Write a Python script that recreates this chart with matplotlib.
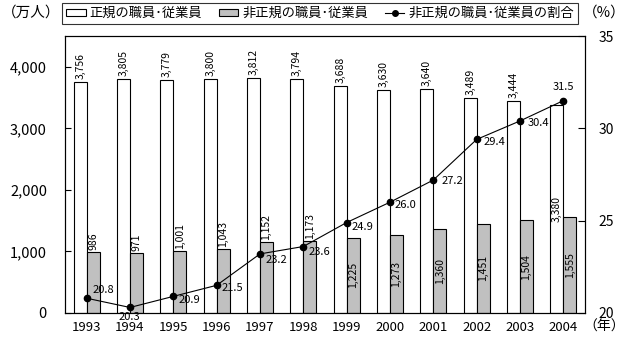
import matplotlib
matplotlib.use('Agg')
import matplotlib.pyplot as plt
import numpy as np
from matplotlib.patches import Patch
from matplotlib.lines import Line2D
from matplotlib.ticker import FuncFormatter

plt.rcParams['font.family'] = ['Noto Sans CJK JP', 'DejaVu Sans']

# データ
years = ['1993', '1994', '1995', '1996', '1997', '1998',
         '1999', '2000', '2001', '2002', '2003', '2004']
regular = [3756, 3805, 3779, 3800, 3812, 3794, 3688, 3630, 3640, 3489, 3444, 3380]
non_regular = [986, 971, 1001, 1043, 1152, 1173, 1225, 1273, 1360, 1451, 1504, 1555]
ratio = [20.8, 20.3, 20.9, 21.5, 23.2, 23.6, 24.9, 26.0, 27.2, 29.4, 30.4, 31.5]
legend_labels = ['正規の職員･従業員', '非正規の職員･従業員', '非正規の職員･従業員の割合']

# 割合ラベルの位置 (dx, dy ピクセル, ha)
ratio_offsets = [(6, 8, 'left'), (-1, -10, 'center'), (5, -4, 'left'), (5, -3, 'left'),
                 (6, -6, 'left'), (5, -5, 'left'), (5, -4, 'left'), (5, -3, 'left'),
                 (8, -1, 'left'), (7, -3, 'left'), (8, -2, 'left'), (0, 14, 'center')]

gray = '#c0c0c0'
fig = plt.figure(figsize=(6.27, 3.48), dpi=100)
ax = fig.add_axes([65/627, 35/348, 520/627, 277/348])
ax2 = ax.twinx()

x = np.arange(len(years))
w = 0.3
ax.bar(x - w/2, regular, w, color='white', edgecolor='black', linewidth=0.8)
ax.bar(x + w/2, non_regular, w, color=gray, edgecolor='black', linewidth=0.8)
ax.set_xlim(-0.5, len(years) - 0.5)
ax.set_ylim(0, 4500)
ax.set_yticks([0, 1000, 2000, 3000, 4000])
ax.yaxis.set_major_formatter(FuncFormatter(lambda v, p: f'{int(v):,}'))
ax.set_xticks(x)
ax.set_xticklabels(years)
ax.tick_params(axis='x', length=0, pad=6, labelsize=9.5)
ax.tick_params(axis='y', direction='in', length=4, pad=13, labelsize=10.5)

# 棒ラベル
for i in range(len(years)):
    if i == len(years) - 1:
        ax.annotate(f'{regular[i]:,}', (x[i] - w/2, non_regular[i]), xytext=(0, -5),
                    textcoords='offset pixels', rotation=90, ha='center', va='bottom', fontsize=7.5)
    else:
        ax.annotate(f'{regular[i]:,}', (x[i] - w/2, regular[i]), xytext=(0, 3),
                    textcoords='offset pixels', rotation=90, ha='center', va='bottom', fontsize=7.5)
    if i < 6:
        ax.annotate(f'{non_regular[i]:,}', (x[i] + w/2, non_regular[i]), xytext=(0, 2),
                    textcoords='offset pixels', rotation=90, ha='center', va='bottom', fontsize=7.5)
    else:
        ax.text(x[i] + w/2, non_regular[i] / 2, f'{non_regular[i]:,}', rotation=90,
                ha='center', va='center', fontsize=7.5)

ax2.plot(x, ratio, color='black', lw=0.8, marker='o', ms=4.5)
ax2.set_ylim(20, 35)
ax2.set_yticks([20, 25, 30, 35])
ax2.tick_params(axis='y', direction='in', length=5, pad=10, labelsize=10)
for i, r in enumerate(ratio):
    dx, dy, ha = ratio_offsets[i]
    ax2.annotate(f'{r:.1f}', (x[i], r), xytext=(dx, dy), textcoords='offset pixels',
                 ha=ha, va='center', fontsize=8)

for a in (ax, ax2):
    for s in a.spines.values():
        s.set_linewidth(0.8)
        s.set_color('black')

fig.text(2/627, 1 - 13/348, '（万人）', ha='left', va='center', fontsize=10.5)
fig.text(583/627, 1 - 13/348, '（%）', ha='left', va='center', fontsize=10.5)
fig.text(583/627, 1 - 327/348, '（年）', ha='left', va='center', fontsize=10)

handles = [Patch(facecolor='white', edgecolor='black', linewidth=0.8),
           Patch(facecolor=gray, edgecolor='black', linewidth=0.8),
           Line2D([], [], color='black', lw=0.8, marker='o', ms=4)]
leg = fig.legend(handles, legend_labels, ncol=3, loc='lower left', mode='expand',
                 bbox_to_anchor=(62/627, 1 - 24/348, 516/627, 22/348), frameon=True,
                 fancybox=False, edgecolor='black', fontsize=9.5, handlelength=1.5,
                 handleheight=0.5, handletextpad=0.3, columnspacing=0.8,
                 borderpad=0.3, borderaxespad=0)
leg.get_frame().set_linewidth(0.8)

fig.savefig('out.png', dpi=100)
